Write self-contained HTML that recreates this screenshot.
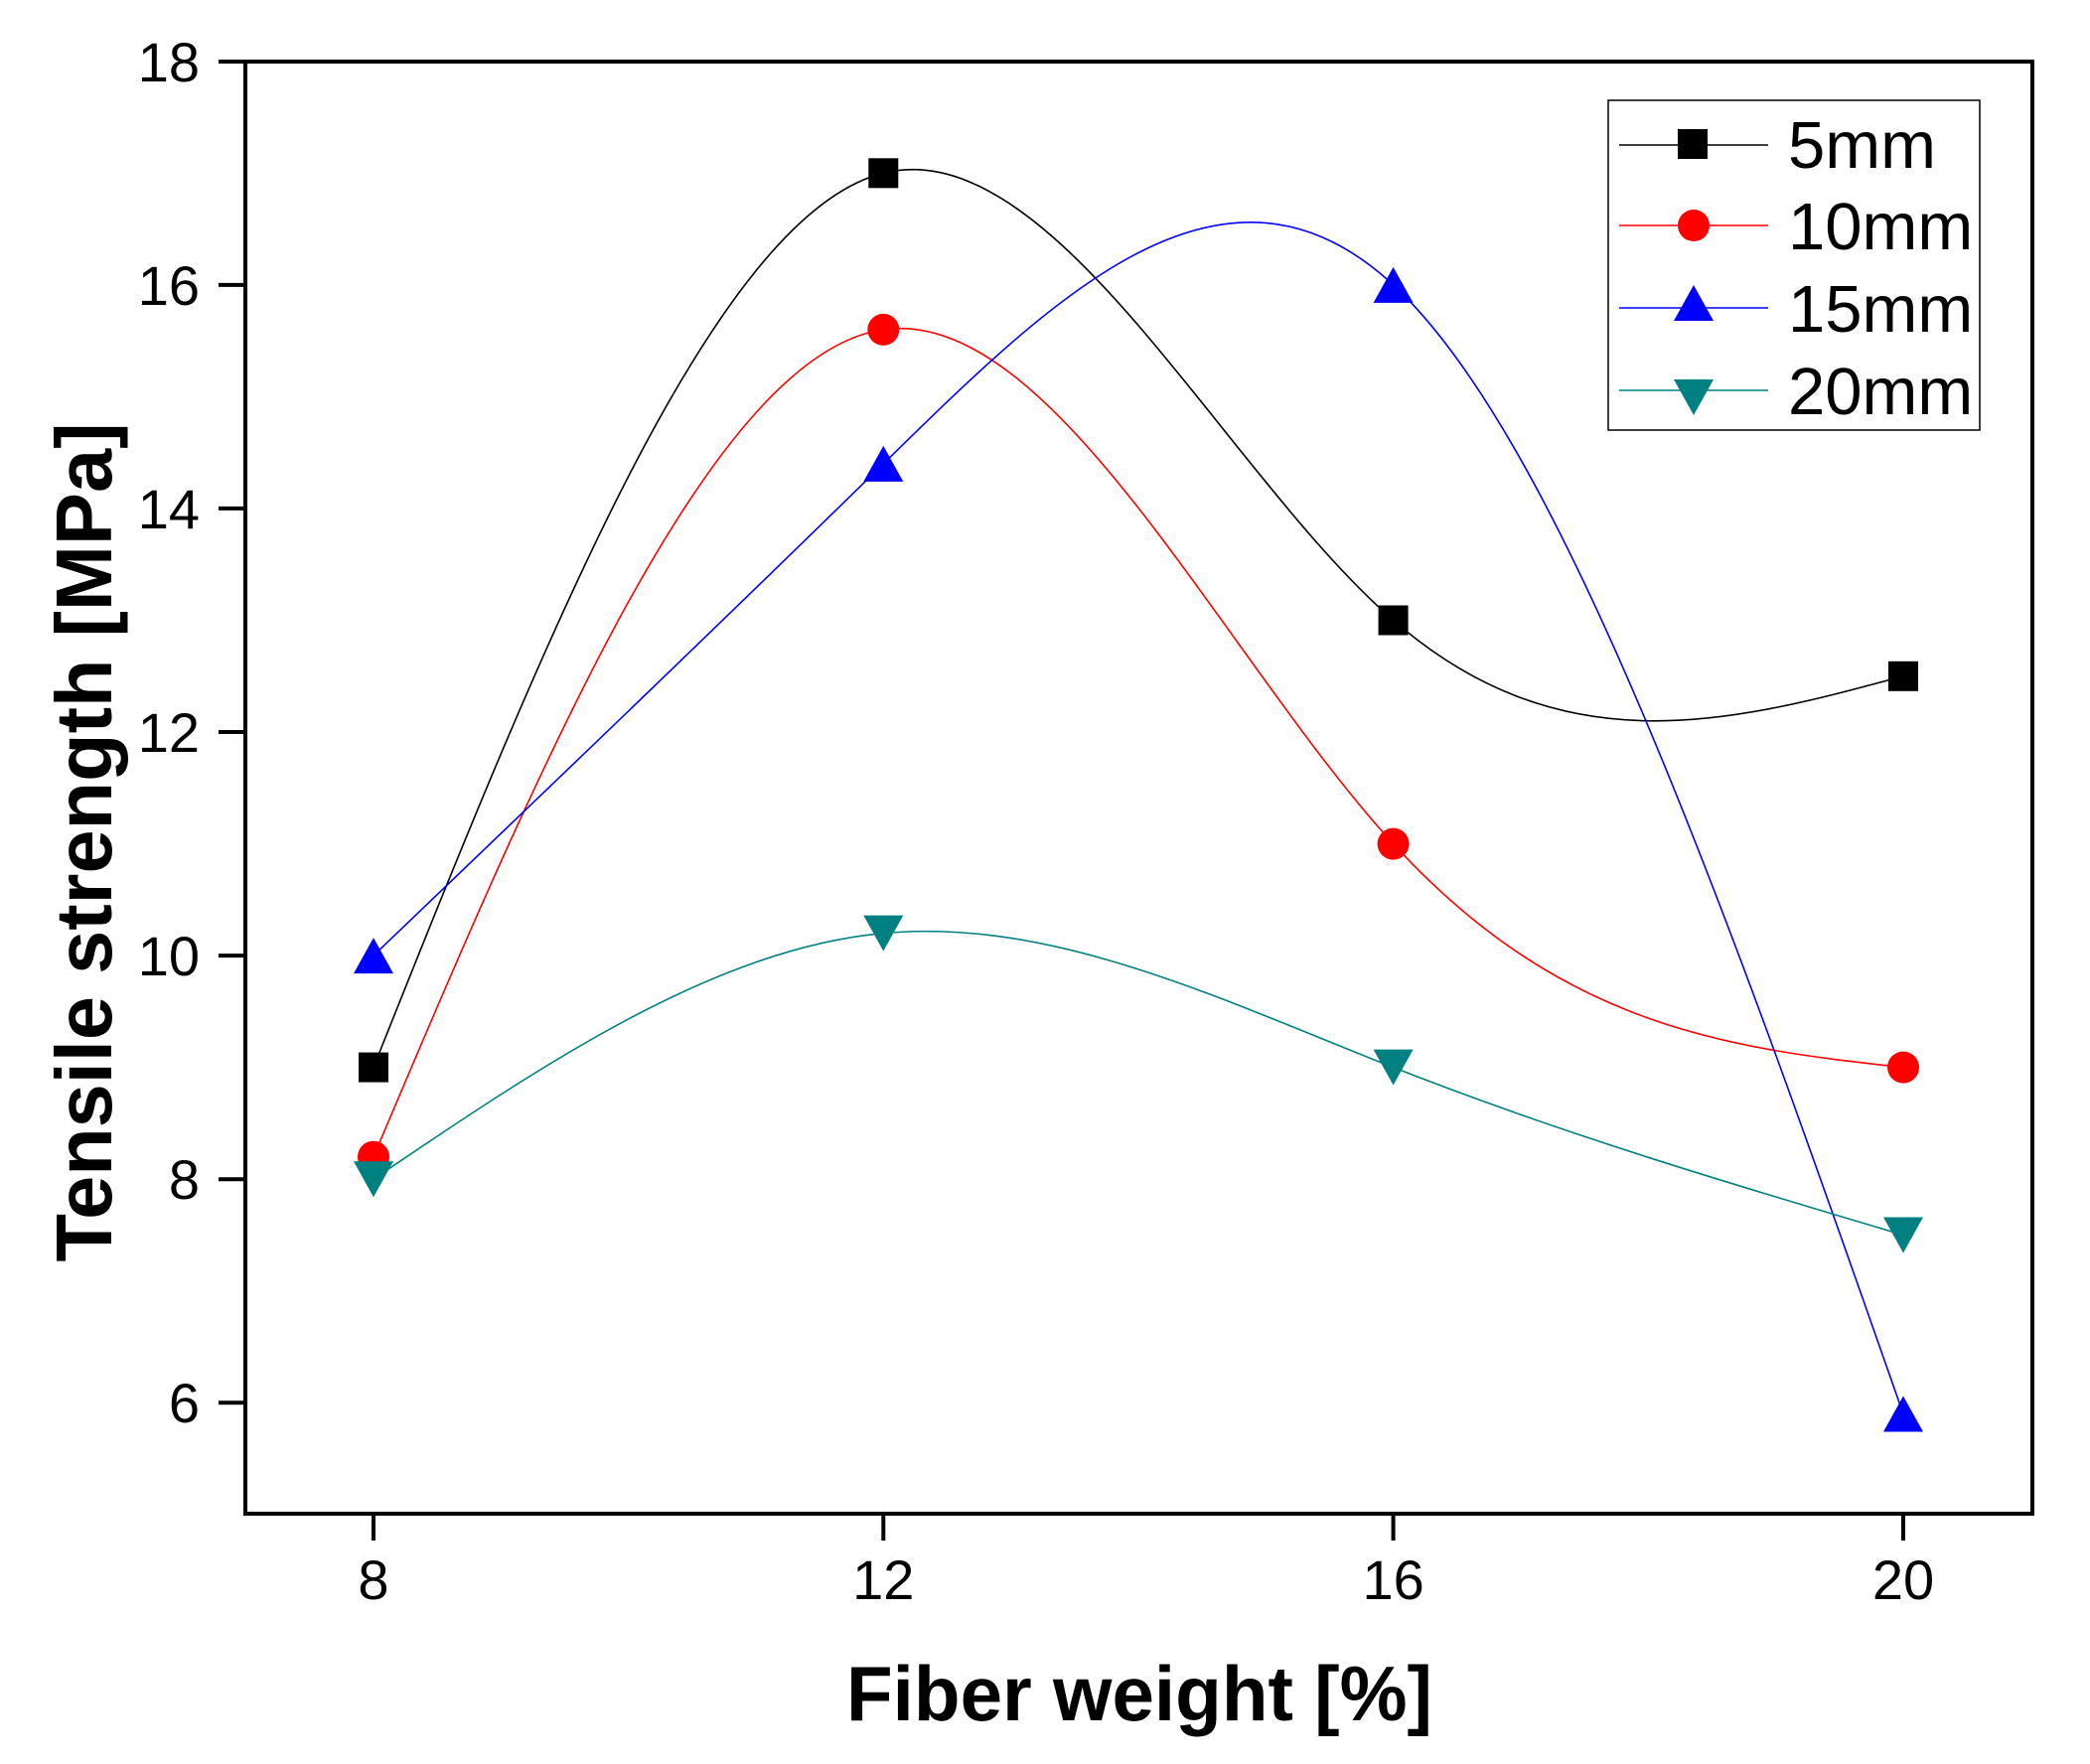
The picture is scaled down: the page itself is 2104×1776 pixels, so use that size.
<!DOCTYPE html>
<html><head><meta charset="utf-8"><style>html,body{margin:0;padding:0;background:#fff}svg{display:block}</style></head>
<body>
<svg width="2104" height="1776" viewBox="0 0 2104 1776" xmlns="http://www.w3.org/2000/svg" font-family="Liberation Sans, Arial, sans-serif">
<rect width="2104" height="1776" fill="#fff"/>
<g transform="matrix(128.33,0,0,-112.54,-650.64,2087.5)" fill="none" stroke-width="1.6">
<path vector-effect="non-scaling-stroke" stroke="#000" d="M8,9 C9.333,12.811 10.667,16.622 12,17 C13.333,17.378 14.667,14.322 16,13 C17.333,11.678 18.667,12.089 20,12.5"/>
<path vector-effect="non-scaling-stroke" stroke="#f00" d="M8,8.2 C9.333,11.791 10.667,15.382 12,15.6 C13.333,15.818 14.667,12.662 16,11 C17.333,9.338 18.667,9.169 20,9"/>
<path vector-effect="non-scaling-stroke" stroke="#00f" d="M8,10 C9.333,11.456 10.667,12.911 12,14.4 C13.333,15.889 14.667,17.411 16,16 C17.333,14.589 18.667,10.244 20,5.9"/>
<path vector-effect="non-scaling-stroke" stroke="#008080" d="M8,8 C9.333,9.029 10.667,10.058 12,10.2 C13.333,10.342 14.667,9.598 16,9 C17.333,8.402 18.667,7.951 20,7.5"/>
</g>
<rect x="247" y="62" width="1799" height="1462" fill="none" stroke="#000" stroke-width="4"/>
<g stroke="#000" stroke-width="4">
<line x1="220" y1="62" x2="247" y2="62"/><line x1="220" y1="286.9" x2="247" y2="286.9"/><line x1="220" y1="511.9" x2="247" y2="511.9"/><line x1="220" y1="737" x2="247" y2="737"/><line x1="220" y1="962.1" x2="247" y2="962.1"/><line x1="220" y1="1187.2" x2="247" y2="1187.2"/><line x1="220" y1="1412.3" x2="247" y2="1412.3"/>
<line x1="376" y1="1524" x2="376" y2="1551"/><line x1="889.3" y1="1524" x2="889.3" y2="1551"/><line x1="1402.6" y1="1524" x2="1402.6" y2="1551"/><line x1="1916" y1="1524" x2="1916" y2="1551"/>
</g>
<g font-size="56" text-anchor="end">
<text x="201" y="82">18</text><text x="201" y="307">16</text><text x="201" y="532">14</text><text x="201" y="757">12</text><text x="201" y="982">10</text><text x="201" y="1207">8</text><text x="201" y="1432">6</text>
</g>
<g font-size="56" text-anchor="middle">
<text x="376" y="1610">8</text><text x="889.3" y="1610">12</text><text x="1402.6" y="1610">16</text><text x="1916" y="1610">20</text>
</g>
<text x="1147" y="1732" font-size="78" font-weight="bold" text-anchor="middle" textLength="590" lengthAdjust="spacingAndGlyphs">Fiber weight [%]</text>
<text transform="translate(112,848) rotate(-90)" font-size="80" font-weight="bold" text-anchor="middle" textLength="845" lengthAdjust="spacingAndGlyphs">Tensile strength [MPa]</text>
<g fill="#000"><rect x="361" y="1059.6" width="30" height="30"/><rect x="874.3" y="159.3" width="30" height="30"/><rect x="1387.6" y="609.5" width="30" height="30"/><rect x="1901" y="665.8" width="30" height="30"/></g>
<g fill="#f00"><circle cx="376" cy="1164.7" r="16"/><circle cx="889.3" cy="331.9" r="16"/><circle cx="1402.6" cy="849.6" r="16"/><circle cx="1916" cy="1074.6" r="16"/></g>
<g fill="#00f">
<polygon points="376,944.1 356,980.1 396,980.1"/><polygon points="889.3,448.9 869.3,484.9 909.3,484.9"/><polygon points="1402.6,268.9 1382.6,304.9 1422.6,304.9"/><polygon points="1916,1405.5 1896,1441.5 1936,1441.5"/>
</g>
<g fill="#008080">
<polygon points="376,1205.2 356,1169.2 396,1169.2"/><polygon points="889.3,957.6 869.3,921.6 909.3,921.6"/><polygon points="1402.6,1092.6 1382.6,1056.6 1422.6,1056.6"/><polygon points="1916,1261.5 1896,1225.5 1936,1225.5"/>
</g>
<rect x="1619" y="101" width="374" height="332" fill="#fff" stroke="#000" stroke-width="1.5"/>
<line x1="1630" y1="146" x2="1780" y2="146" stroke="#000" stroke-width="1.5"/>
<rect x="1689" y="130" width="30" height="30" fill="#000"/>
<line x1="1630" y1="227" x2="1780" y2="227" stroke="#f00" stroke-width="1.5"/>
<circle cx="1705" cy="227" r="16" fill="#f00"/>
<line x1="1630" y1="310" x2="1780" y2="310" stroke="#00f" stroke-width="1.5"/>
<polygon points="1705,287 1685,323 1725,323" fill="#00f"/>
<line x1="1630" y1="393" x2="1780" y2="393" stroke="#008080" stroke-width="1.5"/>
<polygon points="1705,418 1685,382 1725,382" fill="#008080"/>
<g font-size="67">
<text x="1800" y="169">5mm</text><text x="1800" y="251">10mm</text><text x="1800" y="334">15mm</text><text x="1800" y="417">20mm</text>
</g>
</svg>
</body></html>
